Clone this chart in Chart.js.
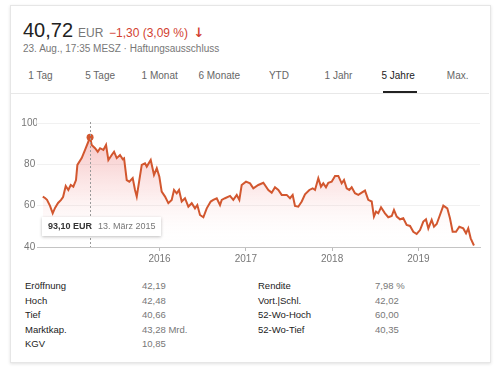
<!DOCTYPE html>
<html>
<head>
<meta charset="utf-8">
<script src="https://cdn.jsdelivr.net/npm/chart.js@4.4.0/dist/chart.umd.min.js"></script>
<style>
  body { margin: 0; background: #fff; font-family: Arial, "Liberation Sans", sans-serif; }
  .abs { position: absolute; white-space: nowrap; }
  #card { position: absolute; left: 10px; top: 5px; width: 479px; height: 356px;
          border: 1px solid #e6e6e6; box-shadow: 0 1px 3px rgba(0,0,0,0.12); background: #fff; }
  #price { left: 23px; top: 20px; font-size: 20px; color: #222; line-height: 20px; }
  #price .cur { font-size: 12px; color: #777; margin-left: 5px; }
  #price .chg { font-size: 12px; color: #d23f31; }
  #price .arr { font-size: 13px; font-weight: bold; color: #d23f31; font-family: "DejaVu Sans", sans-serif; }
  #sub { left: 23px; top: 43px; font-size: 10px; color: #777; }
  .tab { top: 70px; font-size: 10px; color: #666; transform: translateX(-50%); }
  .tab.on { color: #222; }
  #sep { position: absolute; left: 11px; top: 93px; width: 478px; height: 1px; background: #e8e8e8; }
  #uline { position: absolute; left: 383px; top: 91px; width: 34px; height: 2px; background: #222; }
  #wrap { position: absolute; left: 12px; top: 100px; width: 476px; height: 170px; }
  .st { font-size: 9.5px; }
  .lab { color: #222; }
  .val { color: #777; }
</style>
</head>
<body>
<div id="card"></div>
<div id="price" class="abs">40,72<span class="cur">EUR</span> <span class="chg">&minus;1,30 (3,09&nbsp;%)</span> <span class="arr">&darr;</span></div>
<div id="sub" class="abs">23. Aug., 17:35 MESZ · Haftungsausschluss</div>
<div id="tabs"></div>
<div id="sep"></div>
<div id="uline"></div>
<div id="wrap"><canvas id="chart"></canvas></div>
<div id="stats"></div>

<script>
// Zeitraum-Tabs
const tabs = ["1 Tag", "5 Tage", "1 Monat", "6 Monate", "YTD", "1 Jahr", "5 Jahre", "Max."];
const activeTab = "5 Jahre";

// Kursdaten (Jahr als Dezimalzahl) und Schlusskurse in EUR
const years = [
  2014.647, 2014.673, 2014.696, 2014.731, 2014.762, 2014.789, 2014.824, 2014.859, 2014.882, 2014.913,
  2014.943, 2014.971, 2015.001, 2015.032, 2015.048, 2015.098, 2015.137, 2015.195, 2015.214, 2015.253,
  2015.284, 2015.311, 2015.349, 2015.380, 2015.407, 2015.446, 2015.473, 2015.504, 2015.542, 2015.574,
  2015.589, 2015.620, 2015.650, 2015.689, 2015.716, 2015.736, 2015.766, 2015.794, 2015.832, 2015.852,
  2015.898, 2015.936, 2015.968, 2015.998, 2016.025, 2016.064, 2016.102, 2016.141, 2016.168, 2016.199,
  2016.226, 2016.257, 2016.295, 2016.334, 2016.373, 2016.411, 2016.438, 2016.469, 2016.508, 2016.547,
  2016.593, 2016.623, 2016.663, 2016.701, 2016.721, 2016.759, 2016.817, 2016.855, 2016.895, 2016.925,
  2016.952, 2017.002, 2017.049, 2017.087, 2017.145, 2017.203, 2017.261, 2017.300, 2017.338, 2017.377,
  2017.416, 2017.474, 2017.512, 2017.543, 2017.570, 2017.608, 2017.648, 2017.686, 2017.736, 2017.775,
  2017.802, 2017.840, 2017.871, 2017.898, 2017.929, 2017.956, 2017.995, 2018.034, 2018.072, 2018.111,
  2018.138, 2018.169, 2018.199, 2018.227, 2018.265, 2018.304, 2018.343, 2018.381, 2018.419, 2018.459,
  2018.485, 2018.509, 2018.535, 2018.567, 2018.613, 2018.651, 2018.691, 2018.717, 2018.749, 2018.787,
  2018.825, 2018.864, 2018.903, 2018.941, 2018.980, 2019.019, 2019.057, 2019.088, 2019.115, 2019.154,
  2019.181, 2019.212, 2019.250, 2019.289, 2019.335, 2019.366, 2019.397, 2019.436, 2019.474, 2019.520,
  2019.552, 2019.578, 2019.606, 2019.644
];
const prices = [
  64.4, 63.7, 62.8, 59.9, 56.3, 58.9, 61.3, 62.8, 64.2, 69.5,
  67.6, 70.0, 69.2, 72.4, 79.7, 83.0, 87.0, 93.1, 89.4, 87.8,
  86.1, 87.8, 87.0, 89.4, 82.1, 84.5, 86.1, 83.0, 84.5, 82.4,
  82.9, 72.4, 71.6, 73.3, 67.6, 64.4, 72.4, 79.7, 80.5, 78.9,
  82.1, 74.9, 78.1, 74.0, 66.8, 64.4, 61.2, 62.8, 67.6, 66.0,
  67.6, 62.0, 63.6, 59.5, 61.2, 58.7, 60.3, 55.5, 54.4, 58.7,
  62.0, 62.8, 63.6, 60.3, 62.8, 63.6, 64.7, 62.8, 65.2, 62.8,
  70.0, 71.6, 70.8, 68.4, 70.0, 71.1, 67.6, 66.3, 68.9, 67.6,
  65.2, 65.2, 63.6, 65.2, 59.9, 59.5, 62.0, 65.5, 67.6, 68.4,
  67.6, 73.3, 69.2, 70.8, 68.9, 71.1, 71.6, 74.4, 74.4, 70.8,
  72.4, 68.4, 67.6, 68.9, 66.0, 65.2, 66.3, 67.3, 62.8, 62.0,
  54.7, 57.1, 56.3, 59.2, 56.3, 54.4, 55.0, 57.9, 54.7, 53.4,
  53.9, 50.7, 50.2, 47.4, 46.3, 48.2, 52.3, 53.4, 49.0, 53.1,
  49.8, 51.1, 55.5, 60.0, 58.7, 53.9, 47.4, 47.4, 49.8, 49.0,
  46.6, 49.0, 44.2, 40.72
];

// Achsen
const xTicks = [2016, 2017, 2018, 2019];
const yTicks = [40, 60, 80, 100];
const peakDate = "13. März 2015";

// Kennzahlen unter dem Chart
const statLabelsLeft = ["Eröffnung", "Hoch", "Tief", "Marktkap.", "KGV"];
const statValuesLeft = ["42,19", "42,48", "40,66", "43,28 Mrd.", "10,85"];
const statLabelsRight = ["Rendite", "Vort.|Schl.", "52-Wo-Hoch", "52-Wo-Tief"];
const statValuesRight = ["7,98 %", "42,02", "60,00", "40,35"];

// Tabs zeichnen
const tabBox = document.getElementById("tabs");
tabs.forEach((t, i) => {
  const d = document.createElement("div");
  d.className = "abs tab" + (t === activeTab ? " on" : "");
  d.style.left = (40.5 + i * 59.6) + "px";
  d.textContent = t;
  tabBox.appendChild(d);
});

// Kennzahlen zeichnen
const statBox = document.getElementById("stats");
function addStat(text, cls, x, row) {
  const d = document.createElement("div");
  d.className = "abs st " + cls;
  d.style.left = x + "px";
  d.style.top = (280 + row * 14.5) + "px";
  d.textContent = text;
  statBox.appendChild(d);
}
statLabelsLeft.forEach((t, i) => addStat(t, "lab", 25, i));
statValuesLeft.forEach((t, i) => addStat(t, "val", 142, i));
statLabelsRight.forEach((t, i) => addStat(t, "lab", 258, i));
statValuesRight.forEach((t, i) => addStat(t, "val", 375, i));

const peakIndex = prices.indexOf(Math.max(...prices));
const lineColor = "#d2572f";

// Plugin: gestrichelte Linie und Info-Box am Höchststand
const peakPlugin = {
  id: "peak",
  afterDatasetsDraw(chart) {
    const { ctx, chartArea, scales } = chart;
    const px = scales.x.getPixelForValue(years[peakIndex]);
    ctx.save();
    ctx.strokeStyle = "#9a9a9a";
    ctx.lineWidth = 1;
    ctx.setLineDash([2, 2]);
    ctx.beginPath();
    ctx.moveTo(Math.round(px) + 0.5, chartArea.top - 1);
    ctx.lineTo(Math.round(px) + 0.5, chartArea.bottom);
    ctx.stroke();
    ctx.setLineDash([]);

    // Info-Box
    const bx = chartArea.left + 5, by = chartArea.bottom - 30, bw = 119, bh = 19;
    ctx.shadowColor = "rgba(0,0,0,0.25)";
    ctx.shadowBlur = 3;
    ctx.shadowOffsetY = 1;
    ctx.fillStyle = "#fff";
    ctx.fillRect(bx, by, bw, bh);
    ctx.shadowColor = "transparent";
    ctx.textBaseline = "middle";
    ctx.font = "bold 9px Arial, 'Liberation Sans'";
    ctx.fillStyle = "#333";
    const valText = prices[peakIndex].toFixed(2).replace(".", ",") + " EUR";
    ctx.fillText(valText, bx + 6, by + bh / 2 + 0.5);
    const w = ctx.measureText(valText).width;
    ctx.font = "9px Arial, 'Liberation Sans'";
    ctx.fillStyle = "#777";
    ctx.fillText(peakDate, bx + 6 + w + 6, by + bh / 2 + 0.5);
    ctx.restore();
  }
};

const ctx = document.getElementById("chart").getContext("2d");
new Chart(ctx, {
  type: "line",
  data: {
    datasets: [{
      data: years.map((y, i) => ({ x: y, y: prices[i] })),
      borderColor: lineColor,
      borderWidth: 2,
      tension: 0,
      fill: "start",
      backgroundColor: (c) => {
        const area = c.chart.chartArea;
        if (!area) return "rgba(230,90,90,0.2)";
        const g = c.chart.ctx.createLinearGradient(0, area.top, 0, area.bottom);
        g.addColorStop(0, "rgba(228,80,80,0.4)");
        g.addColorStop(0.55, "rgba(240,130,130,0.16)");
        g.addColorStop(1, "rgba(255,255,255,0)");
        return g;
      },
      pointRadius: (c) => c.dataIndex === peakIndex ? 3.5 : 0,
      pointBackgroundColor: lineColor,
      pointBorderWidth: 0
    }]
  },
  options: {
    responsive: true,
    maintainAspectRatio: false,
    animation: false,
    layout: { padding: { top: 23, right: 8, left: 0, bottom: 0 } },
    plugins: { legend: { display: false }, tooltip: { enabled: false } },
    scales: {
      x: {
        type: "linear",
        min: 2014.58,
        max: 2019.714,
        afterBuildTicks: (s) => { s.ticks = xTicks.map(v => ({ value: v })); },
        afterFit: (s) => { s.height = 23; },
        grid: { drawOnChartArea: false, drawTicks: true, tickLength: 4, color: "#bbb" },
        border: { display: true, color: "#c4c4c4" },
        ticks: {
          color: "#777",
          font: { size: 10, family: "Arial, 'Liberation Sans'" },
          padding: 2,
          maxRotation: 0,
          callback: (v) => String(v)
        }
      },
      y: {
        min: 40,
        max: 100,
        afterBuildTicks: (s) => { s.ticks = yTicks.map(v => ({ value: v })); },
        afterFit: (s) => { s.width = 25; },
        grid: {
          drawTicks: false,
          color: (c) => c.tick && c.tick.value === 40 ? "rgba(0,0,0,0)" : "#f1f1f1"
        },
        border: { display: false },
        ticks: {
          color: "#777",
          font: { size: 10, family: "Arial, 'Liberation Sans'" },
          padding: -1,
          crossAlign: "center"
        }
      }
    }
  },
  plugins: [peakPlugin]
});
</script>
</body>
</html>
